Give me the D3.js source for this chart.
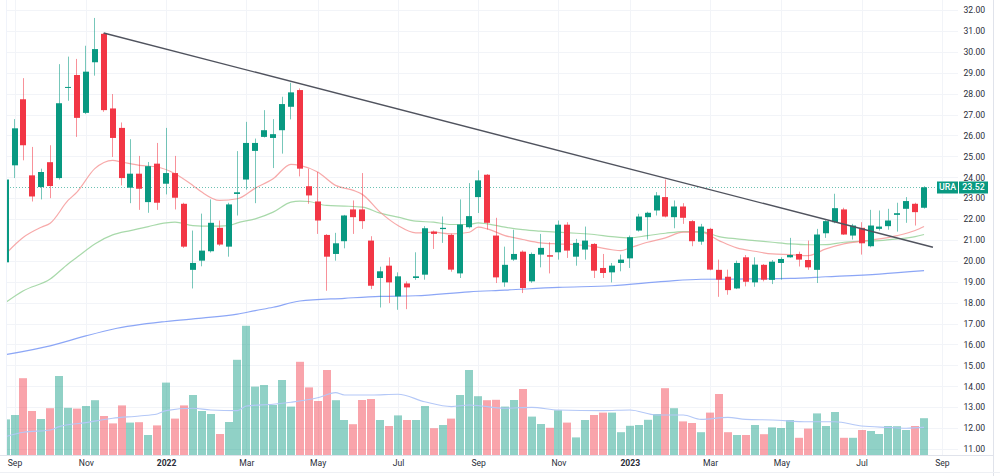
<!DOCTYPE html>
<html><head><meta charset="utf-8">
<script src="https://cdn.jsdelivr.net/npm/d3@7"></script>
<style>html,body{margin:0;padding:0;background:#fff;}svg{display:block;font-family:Roboto,"Liberation Sans",sans-serif;}</style>
</head><body>
<svg id="chart" width="1000" height="476"></svg>
<script>
// ---------- DATA (weekly URA candles, first bar = week of 2021-08-30) ----------
const symbol = "URA";
const startWeek = "2021-08-30";
const opens  = [19.93,24.57,27.73,24.09,23.53,24.72,23.96,28.28,28.89,27.08,29.5,30.86,27.29,26.36,23.5,24.17,22.81,24.65,23.69,24.2,22.73,19.57,20.01,20.46,21.58,20.68,23.2,23.89,25.26,25.93,25.88,26.25,27.37,28.17,23.57,22.84,21.24,20.33,20.94,22.46,22.46,20.97,19.18,19.77,18.3,18.92,19.18,19.34,21.4,21.52,21.24,19.4,21.61,23.05,24.12,21.21,18.97,20.06,20.44,19.02,20.3,20.27,20.41,21.73,20.2,20.54,20.81,19.66,19.45,19.9,20.12,21.45,22.09,22.41,23.05,22.09,22.6,21.9,20.92,21.53,19.57,19.24,18.68,20.17,18.97,19.81,19.09,19.9,20.17,20.33,20.04,19.57,21.32,21.85,22.46,21.21,21.58,20.7,21.53,21.66,22.2,22.49,22.73,22.54];
const highs  = [24.2,26.78,28.74,25.45,24.41,25.53,29.41,29.77,29.66,30.29,31.62,30.9,27.98,26.62,25.82,25.02,24.73,25.64,26.36,25.02,22.78,21.45,22.26,22.94,21.93,22.78,25.25,26.65,25.85,27.21,26.78,27.85,28.52,28.25,24.41,24.25,21.28,21.34,22.2,22.89,24.2,21.18,19.72,20.17,19.45,19.02,20.41,21.66,21.45,22.12,21.3,22.94,23.72,24.33,24.15,22.06,20.68,21.49,20.5,20.4,21.29,20.89,21.93,21.85,21.05,21.64,20.85,20.33,19.9,20.3,21.21,22.25,22.35,23.29,23.89,22.89,22.76,21.95,21.77,21.58,20.06,19.58,20.01,20.28,20.17,19.85,20.04,20.17,21.1,20.44,20.97,21.53,21.95,23.21,22.54,21.77,21.85,22.44,22.41,22.49,22.78,23.05,22.78,23.57];
const lows   = [19.6,23.96,24.81,22.84,22.94,23.0,23.89,27.66,25.93,27.02,28.86,27.13,24.97,23.61,22.76,22.44,22.3,22.44,23.18,22.46,20.62,18.68,19.74,20.4,20.72,20.2,22.17,23.41,22.76,25.9,24.44,25.13,26.77,24.04,22.73,21.29,18.57,20.01,20.6,21.29,21.53,18.65,17.77,17.98,17.66,17.69,19.09,19.1,20.57,20.86,19.48,19.18,21.55,22.29,21.5,18.94,18.76,20.0,18.46,18.95,19.69,19.4,20.06,20.14,19.77,20.06,19.18,19.18,18.97,19.5,19.66,21.4,21.02,22.17,22.08,21.56,21.77,20.7,20.77,19.55,18.28,18.38,18.65,18.78,18.76,19.02,18.89,19.1,20.15,19.73,19.57,18.94,21.1,21.8,21.24,21.02,20.3,20.65,21.45,21.49,21.4,21.82,21.69,22.5];
const closes = [23.89,26.34,25.53,23.08,24.25,23.58,27.54,28.32,26.84,29.05,30.13,27.21,25.88,23.96,24.17,23.45,24.53,22.78,24.2,23.02,20.68,19.9,20.49,21.82,20.78,22.7,23.28,25.64,25.64,26.25,26.06,27.5,28.06,24.41,23.13,21.93,20.2,20.84,22.17,22.09,21.9,18.81,19.5,18.97,19.26,18.73,19.26,21.56,21.29,21.58,19.58,21.74,22.14,23.85,21.82,19.21,19.81,20.33,18.7,20.33,20.62,20.2,21.73,20.49,20.86,20.97,19.53,19.42,19.77,20.06,21.13,22.12,22.3,23.13,22.12,22.6,22.06,20.94,21.64,19.58,19.1,18.6,19.9,19.0,19.82,19.1,19.96,20.09,20.28,20.06,19.69,21.26,21.9,22.52,21.26,21.69,20.84,21.69,21.64,21.93,22.28,22.86,22.33,23.52];
// weekly volume, millions of shares
const volumes = [8.9,10.0,19.2,11.0,9.0,11.7,19.75,11.8,11.6,12.25,13.7,9.75,7.9,12.4,8.1,8.2,5.0,7.4,18.1,9.1,12.4,15.0,11.0,10.25,5.25,8.25,23.8,32.3,17.1,17.5,12.5,18.75,12.1,23.3,16.9,13.5,21.25,13.7,8.75,7.7,13.75,14.0,8.75,7.25,9.9,8.75,8.75,12.25,6.7,7.5,9.1,15.0,21.25,14.7,13.7,13.8,12.1,13.75,16.5,9.6,7.75,6.8,11.2,8.1,4.4,8.75,10.0,10.6,10.6,5.7,7.3,7.5,8.8,10.25,16.7,11.7,8.4,8.0,5.7,10.6,15.25,5.7,5.0,5.0,7.5,5.2,6.9,6.75,8.75,4.3,6.6,10.4,7.25,10.75,4.3,4.3,6.25,6.0,5.25,7.25,7.2,6.25,7.25,9.2];

// moving averages (week index, value)
const maFastIdx = [0,2,4,5,7,8,10,12,13,15,17,19,21,22,24,26,28,30,32,33,35,37,39,40,42,44,46,48,50,52,53,54,56,58,60,62,64,66,68,69,70,72,74,76,78,80,82,84,86,88,90,92,94,96,98,100,102,103];
const maFastVal = [20.33,21.13,21.61,21.8,22.89,23.29,24.41,24.81,24.73,24.57,24.49,24.17,23.61,23.29,22.89,22.97,23.48,23.93,24.62,24.57,24.25,23.61,23.37,23.18,22.33,21.69,21.34,21.37,21.29,21.37,21.61,21.53,21.21,21.02,20.86,20.81,20.77,20.68,20.53,20.49,20.62,20.89,21.1,21.37,21.37,20.97,20.62,20.46,20.33,20.3,20.25,20.57,20.81,20.94,21.05,21.21,21.45,21.64];
const maMidIdx = [0,2,5,7,8,10,12,14,16,18,19,21,23,25,26,28,30,32,33,34,36,38,40,42,44,46,48,50,52,53,54,56,58,60,62,64,66,68,70,72,74,76,78,80,82,84,86,88,90,92,94,96,98,100,102,103];
const maMidVal = [18.01,18.57,19.13,19.85,20.17,20.81,21.24,21.45,21.64,21.82,21.85,21.69,21.66,21.69,21.82,22.01,22.33,22.81,22.86,22.84,22.65,22.62,22.57,22.28,22.09,21.9,21.85,21.74,21.74,21.82,21.77,21.61,21.49,21.42,21.37,21.32,21.26,21.16,21.1,21.21,21.32,21.4,21.4,21.16,21.05,20.97,20.89,20.81,20.77,20.78,20.89,20.94,20.97,21.05,21.16,21.26];
const maSlowIdx = [0,5,9,12,18,22,26,28,30,33,38,42,46,52,56,62,68,74,78,82,88,92,98,103];
const maSlowVal = [15.51,15.93,16.41,16.73,17.1,17.26,17.45,17.62,17.78,18.08,18.21,18.3,18.33,18.52,18.6,18.73,18.81,19.02,19.12,19.13,19.16,19.24,19.37,19.53];
const volMaIdx = [0,2,5,6,9,12,15,17,18,21,23,26,27,30,32,35,37,38,41,44,47,50,52,56,59,62,67,70,73,76,78,81,83,86,90,93,96,99,101,103];
const volMaVal = [4.6,5.7,6.25,7.1,8.1,9.2,9.75,10.25,11.1,11.7,11.25,11.1,12.25,12.7,13.2,14.3,15.6,15.0,15.0,15.2,13.3,12.1,12.5,11.7,11.9,11.25,11.1,11.25,10.0,10.0,8.9,9.4,8.9,8.75,8.3,8.3,7.25,6.9,6.7,6.9];

// trend line drawing (week index, price)
const trendIdx = [11, 104];
const trendVal = [30.9, 20.65];

// axis ticks
const priceTicks = [11,12,13,14,15,16,17,18,19,20,21,22,23,24,25,26,27,28,29,30,31,32];
const timeTickDates  = ["2021-09-06","2021-11-01","2022-01-03","2022-03-07","2022-05-02","2022-07-04","2022-09-05","2022-11-07","2023-01-02","2023-03-06","2023-05-01","2023-07-03","2023-09-04"];
const timeTickLabels = ["Sep","Nov","2022","Mar","May","Jul","Sep","Nov","2023","Mar","May","Jul","Sep"];

// ---------- CHART ----------
const W = 1000, H = 476;
const plotL = 7, plotR = 958, paneB = 455, axisX = 993;
const UP = "#089981", DOWN = "#f23645";

const t0 = new Date(startWeek + "T00:00:00Z");
const dateOf = i => d3.utcWeek.offset(t0, i);
const candles = opens.map((o, i) => ({date: dateOf(i), o, h: highs[i], l: lows[i], c: closes[i], v: volumes[i]}));

const x = d3.scaleUtc()
  .domain([t0, new Date("2023-09-04T00:00:00Z")])
  .range([5.6, 5.6 + 105 * 8.917]);
const y = d3.scaleLinear().domain([11, 32]).range([449, 10]);
const yv = d3.scaleLinear().domain([0, 33]).range([paneB, paneB - 132]);

const svg = d3.select("#chart");
svg.append("defs").append("clipPath").attr("id", "plotclip")
  .append("rect").attr("x", plotL).attr("y", 0).attr("width", plotR - plotL).attr("height", paneB);

// grid
const grid = svg.append("g");
grid.selectAll("line.h").data(priceTicks).join("line")
  .attr("x1", plotL).attr("x2", plotR)
  .attr("y1", d => Math.round(y(d)) + 0.5).attr("y2", d => Math.round(y(d)) + 0.5)
  .attr("stroke", "#f2f4f8").attr("stroke-width", 1);
const tickDates = timeTickDates.map(s => new Date(s + "T00:00:00Z"));
grid.selectAll("line.v").data(tickDates.filter(d => x(d) < plotR)).join("line")
  .attr("x1", d => Math.round(x(d)) + 0.5).attr("x2", d => Math.round(x(d)) + 0.5)
  .attr("y1", 0).attr("y2", paneB)
  .attr("stroke", "#f2f4f8").attr("stroke-width", 1);

const plot = svg.append("g").attr("clip-path", "url(#plotclip)");

// volume bars
plot.append("g").selectAll("rect").data(candles).join("rect")
  .attr("x", d => Math.round(x(d.date) - 4))
  .attr("width", 8)
  .attr("y", d => yv(d.v))
  .attr("height", d => paneB - yv(d.v))
  .attr("fill", d => d.c >= d.o ? UP : DOWN)
  .attr("fill-opacity", 0.45);

// volume MA
const lineGen = (idxs, vals, ys) => d3.line()
  .x((d, k) => x(dateOf(idxs[k])))
  .y(d => ys(d))
  .curve(d3.curveMonotoneX)(vals);
plot.append("path").attr("d", lineGen(volMaIdx, volMaVal, yv))
  .attr("fill", "none").attr("stroke", "#b4c8f7").attr("stroke-width", 1.1);

// price moving averages
plot.append("path").attr("d", lineGen(maSlowIdx, maSlowVal, y))
  .attr("fill", "none").attr("stroke", "#7896f5").attr("stroke-opacity", 0.85).attr("stroke-width", 1.2);
plot.append("path").attr("d", lineGen(maMidIdx, maMidVal, y))
  .attr("fill", "none").attr("stroke", "#92d095").attr("stroke-opacity", 0.8).attr("stroke-width", 1.2);
plot.append("path").attr("d", lineGen(maFastIdx, maFastVal, y))
  .attr("fill", "none").attr("stroke", "#f59393").attr("stroke-opacity", 0.8).attr("stroke-width", 1.2);

// last-price dotted line
plot.append("line")
  .attr("x1", plotL).attr("x2", 936)
  .attr("y1", Math.round(y(closes[closes.length - 1])) + 0.5)
  .attr("y2", Math.round(y(closes[closes.length - 1])) + 0.5)
  .attr("stroke", UP).attr("stroke-opacity", 0.6).attr("stroke-dasharray", "1,2");

// candles
const cg = plot.append("g").selectAll("g").data(candles).join("g");
cg.append("rect")
  .attr("x", d => Math.round(x(d.date) - 0.5)).attr("width", 1)
  .attr("y", d => y(d.h)).attr("height", d => y(d.l) - y(d.h))
  .attr("fill", d => d.c >= d.o ? UP : DOWN).attr("fill-opacity", 0.55);
cg.append("rect")
  .attr("x", d => Math.round(x(d.date) - 3)).attr("width", 6)
  .attr("y", d => y(Math.max(d.o, d.c)))
  .attr("height", d => Math.max(1, Math.abs(y(d.o) - y(d.c))))
  .attr("fill", d => d.c >= d.o ? UP : DOWN);

// trend line
plot.append("line")
  .attr("x1", x(dateOf(trendIdx[0]))).attr("y1", y(trendVal[0]))
  .attr("x2", x(dateOf(trendIdx[1]))).attr("y2", y(trendVal[1]))
  .attr("stroke", "#50535e").attr("stroke-width", 1.4);

// borders
svg.append("line").attr("x1", 0).attr("x2", axisX).attr("y1", paneB + 0.5).attr("y2", paneB + 0.5)
  .attr("stroke", "#e0e3eb");
svg.append("line").attr("x1", axisX + 0.5).attr("x2", axisX + 0.5).attr("y1", 0).attr("y2", H)
  .attr("stroke", "#e0e3eb");
svg.append("line").attr("x1", plotL - 0.5).attr("x2", plotL - 0.5).attr("y1", 0).attr("y2", paneB)
  .attr("stroke", "#f0f3fa");
svg.append("line").attr("x1", 0).attr("x2", W).attr("y1", 472.5).attr("y2", 472.5)
  .attr("stroke", "#eef0f4");

// price axis labels
const yAxis = d3.axisRight(y).tickValues(priceTicks).tickFormat(d3.format(".2f")).tickSize(0).tickPadding(0);
const ya = svg.append("g").attr("transform", "translate(963.5,0)").call(yAxis);
ya.select(".domain").remove();
ya.selectAll("text").attr("font-size", "8.6px").attr("fill", "#2a2e39").attr("font-family", "Roboto,sans-serif");

// time axis labels
const xAxis = d3.axisBottom(x).tickValues(tickDates).tickFormat((d, k) => timeTickLabels[k]).tickSize(0).tickPadding(0);
const xa = svg.append("g").attr("transform", "translate(0,460)").call(xAxis);
xa.select(".domain").remove();
xa.selectAll("text").attr("font-size", "8.6px").attr("fill", "#2a2e39").attr("font-family", "Roboto,sans-serif")
  .attr("font-weight", (d, k) => /^\d{4}$/.test(timeTickLabels[k]) ? 700 : 400);

// last price label
const lp = closes[closes.length - 1];
const ly = y(lp);
const lab = svg.append("g");
lab.append("rect").attr("x", 937).attr("y", Math.round(ly) - 5.5).attr("width", 21).attr("height", 12).attr("fill", UP);
lab.append("text").attr("x", 947.5).attr("y", ly + 3).attr("text-anchor", "middle")
  .attr("font-size", "8.8px").attr("fill", "#fff").attr("font-weight", 500).text(symbol);
lab.append("rect").attr("x", 959).attr("y", Math.round(ly) - 5.5).attr("width", 29).attr("height", 12).attr("fill", UP);
lab.append("text").attr("x", 973.5).attr("y", ly + 3).attr("text-anchor", "middle")
  .attr("font-size", "8.8px").attr("fill", "#fff").attr("font-weight", 500).text(d3.format(".2f")(lp));
</script>
</body></html>
